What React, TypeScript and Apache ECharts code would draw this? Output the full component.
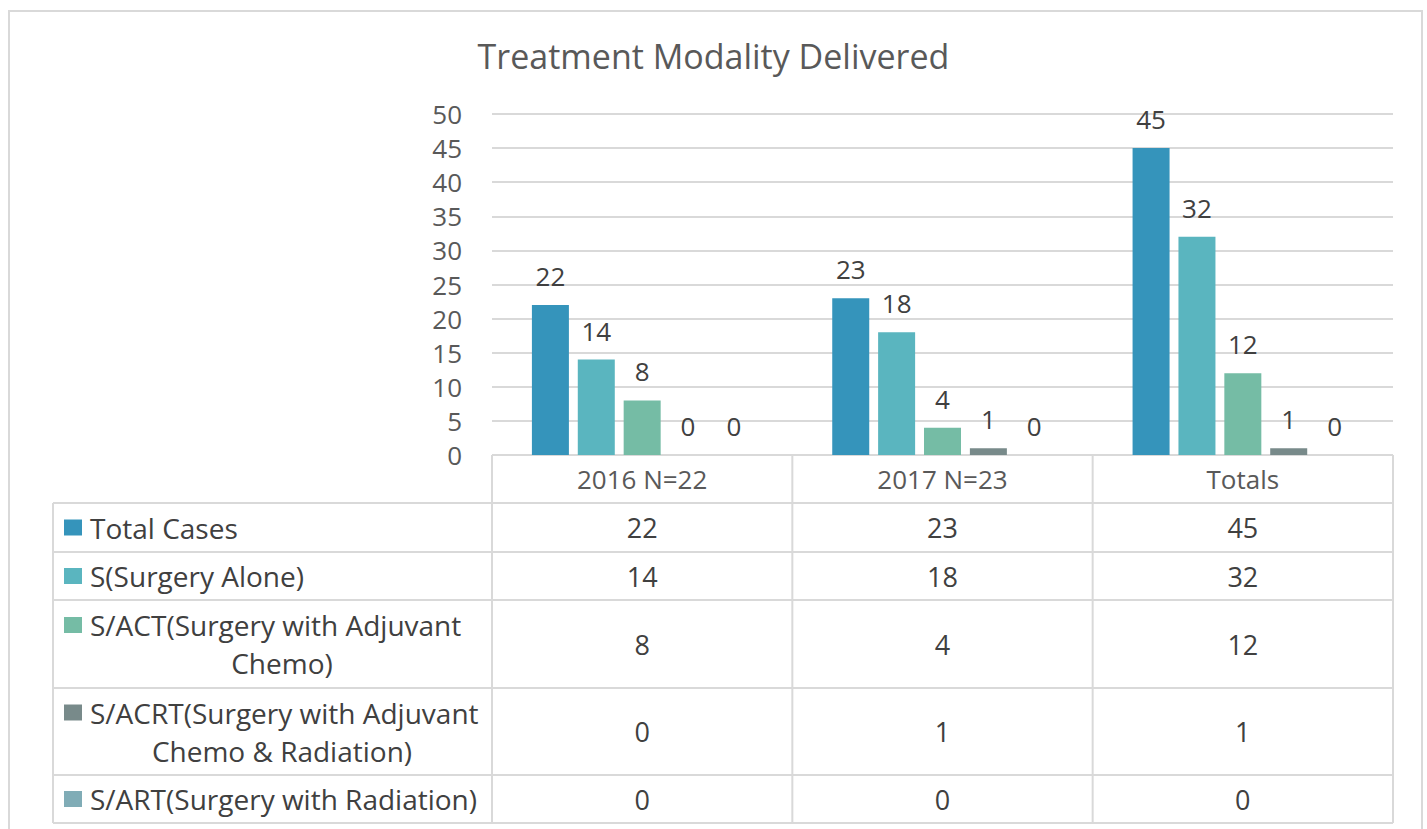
import React, { useEffect, useRef } from "react";
import * as echarts from "echarts";

const title = "Treatment Modality Delivered";
const categories = ["2016 N=22", "2017 N=23", "Totals"];
const seriesNames = [
  "Total Cases",
  "S(Surgery Alone)",
  "S/ACT(Surgery with Adjuvant Chemo)",
  "S/ACRT(Surgery with Adjuvant Chemo & Radiation)",
  "S/ART(Surgery with Radiation)",
];
const tableLabelLines = [
  ["Total Cases"],
  ["S(Surgery Alone)"],
  ["S/ACT(Surgery with Adjuvant", "Chemo)"],
  ["S/ACRT(Surgery with Adjuvant", "Chemo & Radiation)"],
  ["S/ART(Surgery with Radiation)"],
];
const totalCases = [22, 23, 45];
const surgeryAlone = [14, 18, 32];
const surgeryACT = [8, 4, 12];
const surgeryACRT = [0, 1, 1];
const surgeryART = [0, 0, 0];
const seriesValues = [totalCases, surgeryAlone, surgeryACT, surgeryACRT, surgeryART];
const colors = ["#3594bb", "#5ab5bf", "#75bca5", "#788a8a", "#80acb6"];
const yTicks = { min: 0, max: 50, interval: 5 };

const FONT = "Open Sans";
const TEXT = "#404040";
const AXIS_TEXT = "#595959";
const LINE = "#d9d9d9";

// layout constants (px)
const plotLeft = 492;
const plotRight = 1393;
const plotTop = 114;
const plotBottom = 455;
const tableLeft = 53;
const rowEdges = [503, 552, 600, 688, 775, 823];
const tableTop = 455;

export default function App() {
  const ref = useRef<HTMLDivElement>(null);
  useEffect(() => {
    if (!ref.current) return;
    const chart = echarts.init(ref.current, undefined, { renderer: "svg" });
    const colW = (plotRight - plotLeft) / categories.length;
    const graphics: any[] = [];
    graphics.push({
      type: "rect",
      shape: { x: 9, y: 11, width: 1413, height: 900 },
      style: { fill: "none", stroke: LINE, lineWidth: 2 },
      silent: true,
    });
    const hline = (x1: number, x2: number, y: number) =>
      graphics.push({
        type: "line",
        shape: { x1, y1: y, x2, y2: y },
        style: { stroke: LINE, lineWidth: 2 },
        silent: true,
      });
    const vline = (x: number, y1: number, y2: number) =>
      graphics.push({
        type: "line",
        shape: { x1: x, y1, x2: x, y2 },
        style: { stroke: LINE, lineWidth: 2 },
        silent: true,
      });
    hline(plotLeft, plotRight, tableTop);
    rowEdges.forEach((y) => hline(tableLeft, plotRight, y));
    vline(tableLeft, rowEdges[0], rowEdges[rowEdges.length - 1]);
    for (let i = 0; i <= categories.length; i++) {
      vline(plotLeft + i * colW, tableTop, rowEdges[rowEdges.length - 1]);
    }
    const txt = (text: string, x: number, y: number, align: string, size: number) =>
      graphics.push({
        type: "text",
        silent: true,
        style: {
          text,
          x,
          y,
          fill: TEXT,
          fontSize: size,
          fontFamily: FONT,
          align,
          verticalAlign: "middle",
          textAlign: align,
          textVerticalAlign: "middle",
        },
      });
    seriesNames.forEach((_, r) => {
      const top = rowEdges[r];
      const bottom = rowEdges[r + 1];
      const mid = (top + bottom) / 2;
      const lines = tableLabelLines[r];
      const lh = 38;
      const firstY = mid - ((lines.length - 1) * lh) / 2;
      graphics.push({
        type: "rect",
        silent: true,
        shape: { x: 64, y: firstY - 8, width: 18, height: 16 },
        style: { fill: colors[r] },
      });
      lines.forEach((ln, li) => {
        if (li === 0) txt(ln, 90, firstY, "left", 28);
        else txt(ln, 282, firstY + li * lh, "center", 28);
      });
      seriesValues[r].forEach((v, c) => {
        txt(String(v), plotLeft + (c + 0.5) * colW, mid, "center", 27);
      });
    });

    chart.setOption({
      animation: false,
      title: {
        text: title,
        left: "center",
        top: 34,
        textStyle: { fontFamily: FONT, fontSize: 34, fontWeight: "normal", color: AXIS_TEXT },
      },
      grid: {
        left: plotLeft,
        right: 1427 - plotRight,
        top: plotTop,
        bottom: 829 - plotBottom,
        containLabel: false,
      },
      xAxis: {
        type: "category",
        data: categories,
        axisLine: { show: false },
        axisTick: { show: false },
        axisLabel: { fontFamily: FONT, fontSize: 26, color: AXIS_TEXT, margin: 11 },
      },
      yAxis: {
        type: "value",
        min: yTicks.min,
        max: yTicks.max,
        interval: yTicks.interval,
        axisLine: { show: false },
        axisTick: { show: false },
        axisLabel: { fontFamily: FONT, fontSize: 26, color: AXIS_TEXT, margin: 30 },
        splitLine: { lineStyle: { color: LINE, width: 2 } },
      },
      series: seriesNames.map((name, i) => ({
        type: "bar",
        name,
        data: seriesValues[i],
        barWidth: 37,
        barGap: "24%",
        itemStyle: { color: colors[i] },
        label: {
          show: true,
          position: "top",
          distance: 16,
          fontFamily: FONT,
          fontSize: 26,
          color: TEXT,
        },
      })),
      graphic: graphics,
    });
    return () => chart.dispose();
  }, []);
  return (
    <div
      ref={ref}
      style={{ position: "fixed", left: 0, top: 0, width: 1427, height: 829, background: "#fff" }}
    />
  );
}
